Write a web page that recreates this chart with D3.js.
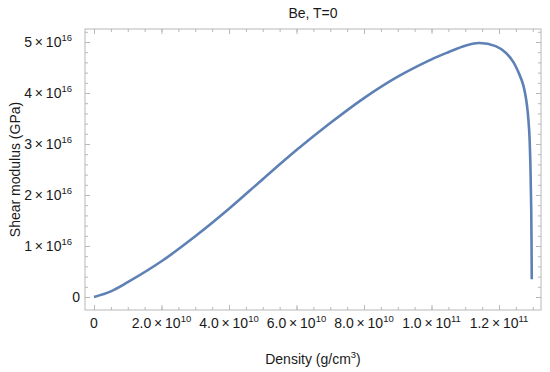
<!DOCTYPE html>
<html><head><meta charset="utf-8">
<script src="https://cdn.jsdelivr.net/npm/d3@7"></script>
<style>body{margin:0;background:#fff}svg{display:block;font-family:"Liberation Sans",Arial,sans-serif}</style>
</head><body><svg id="c" width="550" height="372"></svg>
<script>
// Density in units of 1e10 g/cm^3, shear modulus in units of 1e16 GPa
const densityE10 = [0, 0.5, 1, 2, 3, 4, 5, 6, 7, 8, 9, 10, 10.5, 11, 11.4, 11.9, 12.2, 12.42, 12.6, 12.72, 12.82, 12.89, 12.93, 12.955, 12.97];
const shearE16   = [0, 0.11, 0.29, 0.70, 1.19, 1.73, 2.31, 2.88, 3.41, 3.90, 4.32, 4.66, 4.80, 4.925, 4.98, 4.92, 4.79, 4.61, 4.37, 4.15, 3.80, 3.30, 2.60, 1.70, 0.35];

const xTickValues = [0, 2, 4, 6, 8, 10, 12];
const xTickMant = ["0", "2.0", "4.0", "6.0", "8.0", "1.0", "1.2"];
const xTickExp  = ["", "10", "10", "10", "10", "11", "11"];
const yTickValues = [0, 1, 2, 3, 4, 5];
const yTickMant = ["0", "1", "2", "3", "4", "5"];
const yTickExp  = ["", "16", "16", "16", "16", "16"];

const title = "Be, T=0";
const xLabel = "Density (g/cm";
const yLabel = "Shear modulus (GPa)";

const L = 85, R = 541, T = 29, B = 310;
const x = d3.scaleLinear().domain([-0.2667, 13.244]).range([L, R]);
const y = d3.scaleLinear().domain([-0.255, 5.255]).range([B, T]);

const svg = d3.select("#c");
const frameCol = "#b8b8b8";
const textCol = "#1a1a1a";
const FS = 14, SUP = 9.5;

const xMinor = d3.range(0, 13.01, 0.5);
const yMinor = d3.range(0, 5.21, 0.2);

function styleAxis(g){ g.select(".domain").remove(); g.selectAll("line").attr("stroke", frameCol); g.selectAll("text").remove(); }

svg.append("g").attr("transform",`translate(0,${B})`).call(d3.axisBottom(x).tickValues(xMinor).tickSize(-3).tickFormat("")).call(styleAxis);
svg.append("g").attr("transform",`translate(0,${B})`).call(d3.axisBottom(x).tickValues(xTickValues).tickSize(-5).tickFormat("")).call(styleAxis);
svg.append("g").attr("transform",`translate(0,${T})`).call(d3.axisTop(x).tickValues(xMinor).tickSize(-3).tickFormat("")).call(styleAxis);
svg.append("g").attr("transform",`translate(0,${T})`).call(d3.axisTop(x).tickValues(xTickValues).tickSize(-5).tickFormat("")).call(styleAxis);
svg.append("g").attr("transform",`translate(${L},0)`).call(d3.axisLeft(y).tickValues(yMinor).tickSize(-3).tickFormat("")).call(styleAxis);
svg.append("g").attr("transform",`translate(${L},0)`).call(d3.axisLeft(y).tickValues(yTickValues).tickSize(-5).tickFormat("")).call(styleAxis);
svg.append("g").attr("transform",`translate(${R},0)`).call(d3.axisRight(y).tickValues(yMinor).tickSize(-3).tickFormat("")).call(styleAxis);
svg.append("g").attr("transform",`translate(${R},0)`).call(d3.axisRight(y).tickValues(yTickValues).tickSize(-5).tickFormat("")).call(styleAxis);

svg.append("rect").attr("x",L).attr("y",T).attr("width",R-L).attr("height",B-T)
  .attr("fill","none").attr("stroke",frameCol).attr("stroke-width",1);

function label(sel, mant, exp){
  sel.append("tspan").text(mant);
  if (exp) {
    sel.append("tspan").text("\u2009×\u200910");
    sel.append("tspan").attr("font-size",SUP).attr("dy",-6).text(exp);
  }
}

xTickValues.forEach((v,i)=>{
  const t = svg.append("text").attr("x", x(v)).attr("y", 328).attr("text-anchor","middle")
    .attr("font-size",FS).attr("fill",textCol);
  label(t, xTickMant[i], xTickExp[i]);
});
yTickValues.forEach((v,i)=>{
  const t = svg.append("text").attr("x", yTickExp[i] ? 72 : 80).attr("y", y(v)+5).attr("text-anchor","end")
    .attr("font-size",FS).attr("fill",textCol);
  label(t, yTickMant[i], yTickExp[i]);
});

svg.append("text").attr("x",(L+R)/2).attr("y",18).attr("text-anchor","middle").attr("font-size",FS).attr("fill",textCol).text(title);
const xl = svg.append("text").attr("x",(L+R)/2).attr("y",364).attr("text-anchor","middle").attr("font-size",FS).attr("fill",textCol);
xl.append("tspan").text(xLabel);
xl.append("tspan").attr("font-size",SUP).attr("dy",-6).text("3");
xl.append("tspan").attr("dy",6).text(")");
svg.append("text").attr("transform",`translate(20,${(T+B)/2}) rotate(-90)`).attr("text-anchor","middle")
  .attr("font-size",FS).attr("fill",textCol).text(yLabel);

const line = d3.line().x((d,i)=>x(densityE10[i])).y((d,i)=>y(shearE16[i])).curve(d3.curveCatmullRom.alpha(0.5));
svg.append("path").datum(shearE16).attr("d",line).attr("fill","none")
  .attr("stroke","#5e81b5").attr("stroke-width",2.6).attr("stroke-linejoin","round");
</script></body></html>
